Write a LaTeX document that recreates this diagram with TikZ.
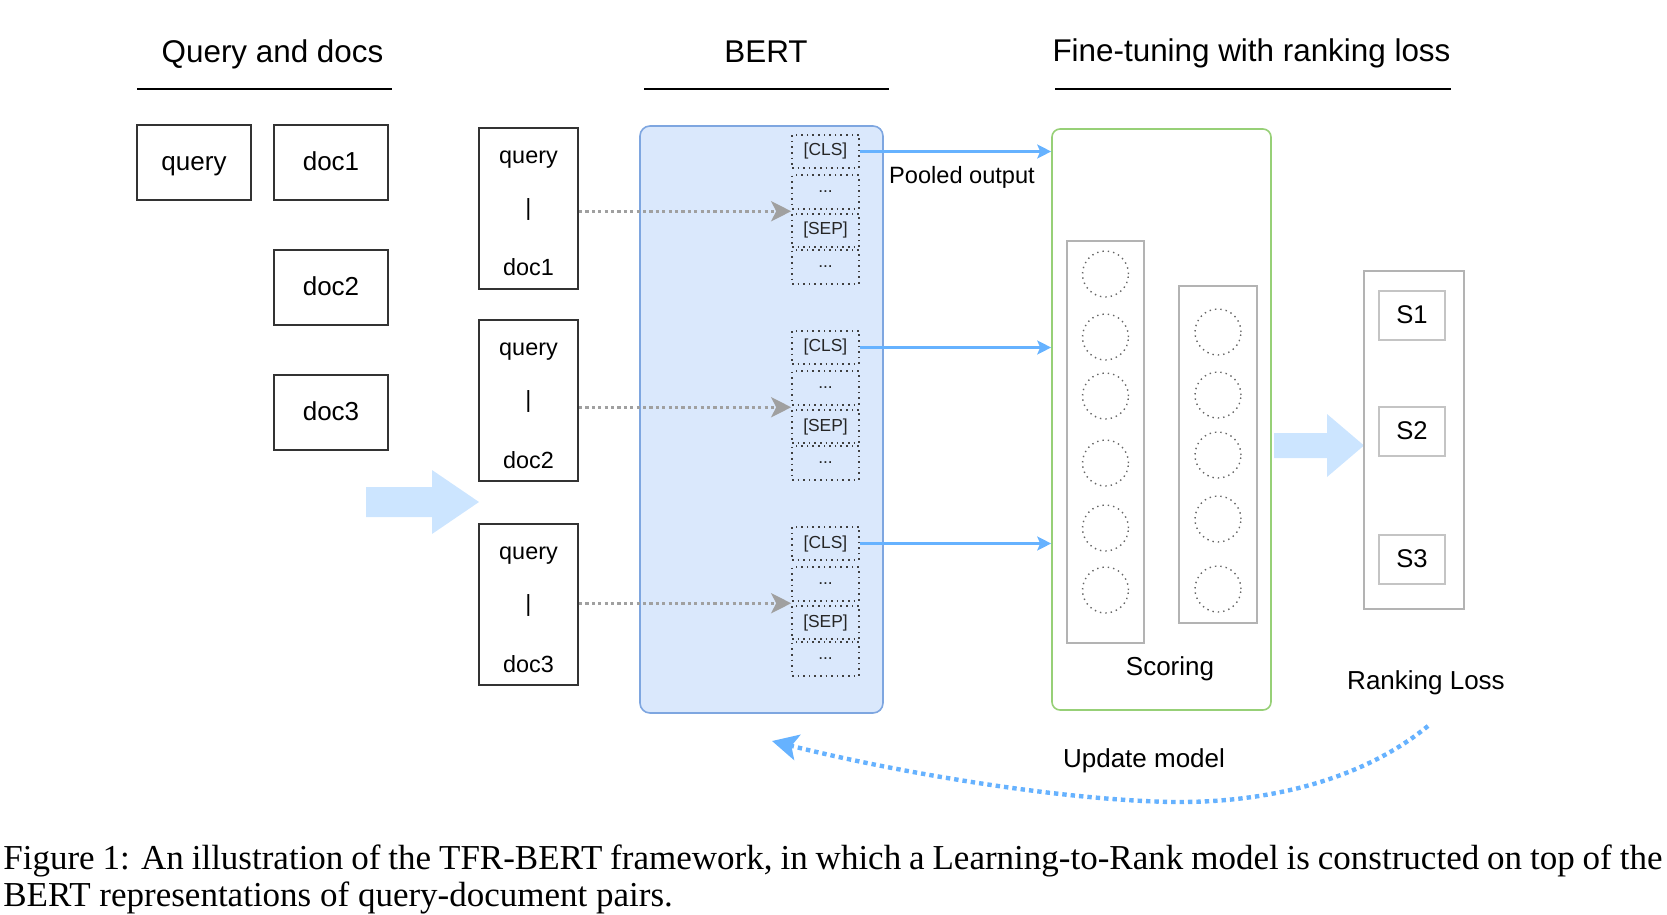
\documentclass[tikz,border=0pt]{standalone}
\usepackage{fontspec}
\setmainfont{Liberation Sans}
\newfontfamily\capfont{Liberation Serif}
\usetikzlibrary{arrows.meta,calc}
\definecolor{bertfill}{HTML}{DAE8FC}
\definecolor{bertline}{HTML}{7EA6E0}
\definecolor{bigarrow}{HTML}{CCE5FF}
\definecolor{conblue}{HTML}{66B2FF}
\definecolor{greenline}{HTML}{97D077}
\definecolor{colgray}{HTML}{B3B3B3}
\definecolor{sgray}{HTML}{C4C4C4}
\definecolor{dotgray}{HTML}{A0A0A0}
\begin{document}
\begin{tikzpicture}[x=0.5pt,y=-0.5pt,
  hdr/.style={font=\fontsize{15.7}{19}\selectfont, anchor=base, inner sep=0},
  uline/.style={draw=black, line width=0.7pt},
  inbox/.style={draw=black!80, line width=1pt, minimum width=57pt, minimum height=37.5pt,
    font=\fontsize{13}{15}\selectfont, text height=0.75em, text depth=0pt, inner sep=0},
  pairbox/.style={draw=black!80, line width=1pt, minimum width=49.5pt, minimum height=80.5pt, inner sep=0},
  pairtxt/.style={font=\fontsize{11.7}{14}\selectfont, inner sep=0},
  tok/.style={draw=black!75, dotted, line width=0.8pt, minimum width=33.5pt, minimum height=16.75pt,
    font=\fontsize{8.7}{10}\selectfont, text=black!85, inner sep=0},
  grayarr/.style={draw=dotgray, line width=1.6pt, dash pattern=on 1.6pt off 1.6pt,
    -{Stealth[length=10pt,width=10pt,inset=2.5pt,fill=dotgray]}},
  bluearr/.style={draw=conblue, line width=1.1pt, -{Stealth[length=7pt,width=7pt,inset=1.5pt]}},
  colbox/.style={draw=colgray, line width=0.75pt, inner sep=0},
  neuron/.style={circle, draw=black!60, dotted, line width=0.7pt, minimum size=23pt, inner sep=0},
  sbox/.style={draw=sgray, line width=0.8pt, minimum width=33pt, minimum height=24.5pt,
    font=\fontsize{12.8}{15}\selectfont, text height=0.75em, text depth=0pt, inner sep=0},
  lbl/.style={font=\fontsize{13}{15}\selectfont, anchor=base, inner sep=0},
  capline/.style={font=\capfont\fontsize{17.5}{21}\selectfont, anchor=base west, inner sep=0}
]
\useasboundingbox (0,0) rectangle (1667,915);

% headers
\node[hdr] (h1) at (272.5,63) {Query and docs};
\node[hdr] (h2) at (766,63) {BERT};
\node[hdr] (h3) at (1251.5,62) {Fine-tuning with ranking loss};
\draw[uline] (137,89) -- (392,89);
\draw[uline] (644,89) -- (889,89);
\draw[uline] (1055,89) -- (1451,89);

% query and docs
\node[inbox] (q) at (194,162.5) {query};
\node[inbox] (d1) at (331,162.5) {doc1};
\node[inbox] (d2) at (331,287.5) {doc2};
\node[inbox] (d3) at (331,412.5) {doc3};

% big arrow left
\fill[bigarrow] (366,487) -- (432,487) -- (432,470) -- (479,502) -- (432,534) -- (432,517) -- (366,517) -- cycle;

% pair boxes
\node[pairbox] (p1) at (528.5,208.5) {};
\node[pairbox] (p2) at (528.5,400.5) {};
\node[pairbox] (p3) at (528.5,604.5) {};
\foreach \n/\t/\d in {1/128/doc1, 2/320/doc2, 3/524/doc3}{
  \node[pairtxt, anchor=base] (pq\n) at (528.5,\t+35) {query};
  \node[pairtxt] (pb\n) at (528.5,\t+81.5) {|};
  \node[pairtxt, anchor=base] (pd\n) at (528.5,\t+148) {\d};
}

% BERT box
\node[draw=bertline, fill=bertfill, line width=0.8pt, rounded corners=5pt,
  minimum width=121.5pt, minimum height=293.5pt, inner sep=0] (bert) at (761.5,419.5) {};

% token boxes
\foreach \g/\b in {1/135, 2/331, 3/527}{
  \node[tok] (c\g) at (825.5,\b+16.5) {[CLS]};
  \node[tok] (da\g) at (825.5,\b+57) {...};
  \node[tok] (s\g) at (825.5,\b+95.5) {[SEP]};
  \node[tok] (db\g) at (825.5,\b+132) {...};
  \coordinate (g\g) at ($(da\g.south west)!0.5!(s\g.north west)$);
  \draw[grayarr] (p\g.east |- g\g) -- (g\g);
}

% fine-tuning box
\node[draw=greenline, line width=0.8pt, rounded corners=4pt,
  minimum width=109.5pt, minimum height=290.5pt, inner sep=0] (ft) at (1161.5,419.5) {};
\foreach \g in {1,2,3}{
  \draw[bluearr] (c\g.east) -- (ft.west |- c\g.east);
}
\node[font=\fontsize{11.8}{14}\selectfont, anchor=base, inner sep=0] (pool) at (962,184) {Pooled output};

% scoring columns
\node[colbox, minimum width=38.5pt, minimum height=201pt] (col1) at (1105.5,442) {};
\node[colbox, minimum width=39pt, minimum height=168.5pt] (col2) at (1218,454.5) {};
\foreach \i/\y in {1/274, 2/337, 3/396, 4/463, 5/528, 6/590}{
  \node[neuron] (na\i) at (1105.5,\y) {};
}
\foreach \i/\y in {1/332, 2/395, 3/455, 4/519, 5/589}{
  \node[neuron] (nb\i) at (1218,\y) {};
}
\node[lbl] (scoring) at (1170,675) {Scoring};

% big arrow right
\fill[bigarrow] (1274,433) -- (1327,433) -- (1327,414) -- (1364,445.5) -- (1327,477) -- (1327,458) -- (1274,458) -- cycle;

% ranking
\node[colbox, minimum width=50pt, minimum height=169pt] (rank) at (1414,440) {};
\node[sbox] (s1b) at (1412,315.5) {S1};
\node[sbox] (s2b) at (1412,431.5) {S2};
\node[sbox] (s3b) at (1412,559.5) {S3};
\node[lbl] (rl) at (1426,689) {Ranking Loss};

% update model
\node[lbl] (um) at (1144,767) {Update model};
\coordinate (ustart) at (1428,726);
\coordinate (uend) at (772,741);
\draw[draw=conblue, line width=2.2pt, dash pattern=on 2.2pt off 2pt,
  -{Stealth[length=13pt,width=13pt,inset=3pt]}]
  (ustart) .. controls (1362,780) and (1268,803) .. (1173,802)
  .. controls (1058,800) and (895,772) .. (uend);

% caption
\node[capline] (cap1) at (3,869) {\makebox[829.5pt][s]{Figure 1: An illustration of the TFR-BERT framework, in which a Learning-to-Rank model is constructed on top of the}};
\node[capline] (cap2) at (3,906) {BERT representations of query-document pairs.};
\end{tikzpicture}
\end{document}
